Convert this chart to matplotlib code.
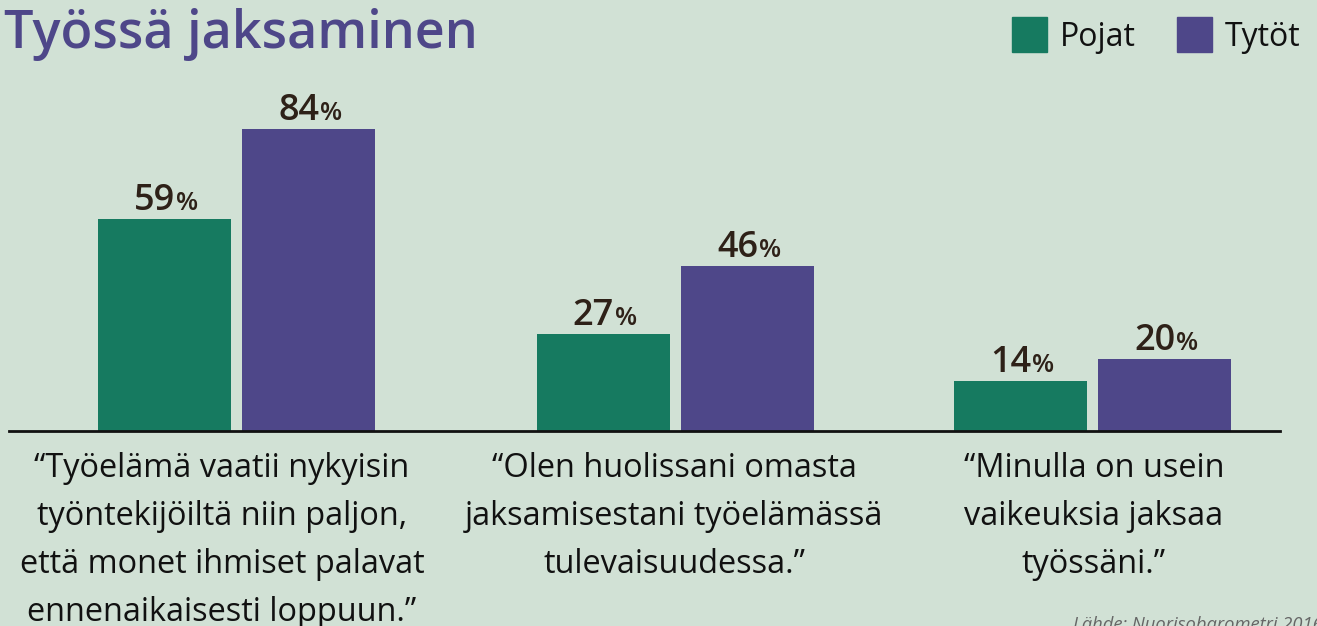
import matplotlib.pyplot as plt
import numpy as np

categories = [
    ["\u201cTyöelämä vaatii nykyisin", "työntekijöiltä niin paljon,",
     "että monet ihmiset palavat", "ennenaikaisesti loppuun.\u201d"],
    ["\u201cOlen huolissani omasta", "jaksamisestani työelämässä", "tulevaisuudessa.\u201d"],
    ["\u201cMinulla on usein", "vaikeuksia jaksaa", "työssäni.\u201d"],
]
pojat = [59, 27, 14]
tytot = [84, 46, 20]
series_names = ["Pojat", "Tytöt"]

BG = "#d1e1d5"
GREEN = "#167a60"
PURPLE = "#4e4789"
DARK = "#2e2118"

plt.rcParams['font.family'] = ['Open Sans', 'DejaVu Sans']

W, H = 1317, 626
fig = plt.figure(figsize=(W / 100, H / 100), dpi=100, facecolor=BG)

# axes: x in pixel units, baseline at y=431px from top
base_px = 431
ax = fig.add_axes([0, (H - base_px) / H, 1, base_px / H])
ax.set_facecolor(BG)
ax.set_xlim(0, W)
px_per_pct = 3.595
ax.set_ylim(0, base_px / px_per_pct)

centers = np.array([236, 675, 1092])
bw, gap = 133, 11
xg = centers - gap / 2 - bw / 2
xp = centers + gap / 2 + bw / 2
ax.bar(xg, pojat, width=bw, color=GREEN, label=series_names[0])
ax.bar(xp, tytot, width=bw, color=PURPLE, label=series_names[1])

for xs, vals in ((xg, pojat), (xp, tytot)):
    for x, v in zip(xs, vals):
        ax.annotate(str(v), (x, v), xytext=(8, 6.5), textcoords='offset points',
                    ha='right', va='baseline', fontsize=26, fontweight='semibold', color=DARK)
        ax.annotate("%", (x, v), xytext=(8.5, 6.5), textcoords='offset points',
                    ha='left', va='baseline', fontsize=18.5, fontweight='semibold', color=DARK)

for s in ['top', 'left', 'right']:
    ax.spines[s].set_visible(False)
ax.spines['bottom'].set_bounds(9, 1280)
ax.spines['bottom'].set_linewidth(2)
ax.spines['bottom'].set_color('#111111')
ax.set_xticks([])
ax.set_yticks([])

# category labels, one line at a time
label_x = [222, 674, 1094]
for lx, lines in zip(label_x, categories):
    for i, line in enumerate(lines):
        fig.text(lx / W, 1 - (477 + 48 * i) / H, line, ha='center', va='baseline',
                 fontsize=23.4, color='#111111')

# title
fig.text(4 / W, 1 - 48 / H, "Työssä jaksaminen", ha='left', va='baseline',
         fontsize=37.5, fontweight='semibold', color=PURPLE)

# legend
for sx, col, name in ((1012, GREEN, series_names[0]), (1177, PURPLE, series_names[1])):
    fig.patches.append(plt.Rectangle((sx / W, 1 - 52 / H), 35 / W, 35 / H,
                                     transform=fig.transFigure, color=col))
    fig.text((sx + 48) / W, 1 - 46 / H, name, ha='left', va='baseline',
             fontsize=23, color='#111111')

fig.text(1073 / W, 1 - 630 / H, "Lähde: Nuorisobarometri 2016", ha='left', va='baseline',
         fontsize=13.2, style='italic', color='#666666')

fig.savefig("out.png", dpi=100, facecolor=BG)
